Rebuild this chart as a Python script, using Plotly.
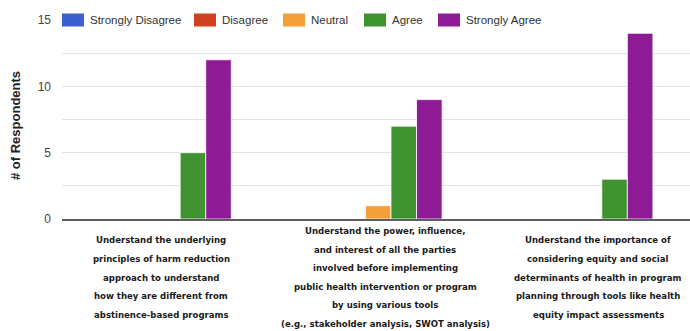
import plotly.graph_objects as go

categories = [
    "Understand the underlying\nprinciples of harm reduction\napproach to understand\nhow they are different from\nabstinence-based programs",
    "Understand the power, influence,\nand interest of all the parties\ninvolved before implementing\npublic health intervention or program\nby using various tools\n(e.g., stakeholder analysis, SWOT analysis)",
    "Understand the importance of\nconsidering equity and social\ndeterminants of health in program\nplanning through tools like health\nequity impact assessments",
]
series_names = ["Strongly Disagree", "Disagree", "Neutral", "Agree", "Strongly Agree"]
strongly_disagree = [0, 0, 0]
disagree = [0, 0, 0]
neutral = [0, 1, 0]
agree = [5, 7, 3]
strongly_agree = [12, 9, 14]
series_values = [strongly_disagree, disagree, neutral, agree, strongly_agree]
y_tick_values = [0, 5, 10, 15]
y_title = "# of Respondents"

colors = ["#3b5fcc", "#d0421f", "#f4a03a", "#3f9330", "#8e1a96"]

W, H = 690, 331
L, R, T, B = 62, 690, 20, 219


def px_x(p):
    return (p - L) / (R - L)


def px_y(p):
    return (B - p) / (B - T)


fig = go.Figure()
for name, vals, col in zip(series_names, series_values, colors):
    fig.add_trace(go.Bar(
        x=categories, y=vals, name=name, showlegend=False,
        marker=dict(color=col, line=dict(color="rgba(255,255,255,0.8)", width=1)),
    ))

font_fam = "Liberation Sans, Arial, sans-serif"
cond_fam = "DejaVu Sans Condensed, Liberation Sans, Arial, sans-serif"

# custom legend sitting on the top gridline
legend_box_x = [62, 194, 283, 364, 438]
box_w = 22
shapes = []
annotations = []
for bx, name, col in zip(legend_box_x, series_names, colors):
    shapes.append(dict(type="rect", xref="paper", yref="paper",
                       x0=px_x(bx), x1=px_x(bx + box_w), y0=px_y(26.5), y1=px_y(13.5),
                       fillcolor=col, line=dict(width=0), layer="above"))
    annotations.append(dict(xref="paper", yref="paper", x=px_x(bx + box_w + 4), y=px_y(20),
                            xanchor="left", yanchor="middle", text=name, showarrow=False,
                            bgcolor="white", borderpad=1,
                            font=dict(family=font_fam, size=11.5, color="#333")))

# category labels with generous line spacing
line_gap = 18.5
center_y = 277
label_xshift = [-6, 7, 9]
for cat, xs in zip(categories, label_xshift):
    lines = cat.split("\n")
    n = len(lines)
    for k, ln in enumerate(lines):
        yk = center_y + (k - (n - 1) / 2) * line_gap
        annotations.append(dict(xref="x", yref="paper", x=cat, y=px_y(yk), xshift=xs,
                                xanchor="center", yanchor="middle", text=ln, showarrow=False,
                                font=dict(family=cond_fam, size=9.5, color="#1a1a1a", weight="bold")))

annotations.append(dict(xref="paper", yref="paper", x=px_x(15), y=px_y(126),
                        xanchor="center", yanchor="middle", text=y_title, textangle=-90,
                        showarrow=False,
                        font=dict(family=font_fam, size=13, color="#222", weight="bold")))

fig.update_layout(
    width=W, height=H,
    margin=dict(l=L, r=W - R, t=T, b=H - B, pad=0),
    paper_bgcolor="white", plot_bgcolor="white",
    barmode="group", bargap=0.394, bargroupgap=0,
    shapes=shapes, annotations=annotations,
    showlegend=False,
)
fig.update_xaxes(type="category", range=[-0.5, 2.479], showticklabels=False,
                 showline=True, linecolor="#5f5f5f", linewidth=2, showgrid=False,
                 ticks="", fixedrange=True)
fig.update_yaxes(range=[0, 15], tickvals=y_tick_values, showgrid=True,
                 gridcolor="#e3e3e3", gridwidth=1, zeroline=False, showline=False,
                 ticks="", ticklabelstandoff=10,
                 minor=dict(dtick=2.5, showgrid=True, gridcolor="#e3e3e3", gridwidth=1),
                 tickfont=dict(family=font_fam, size=12, color="#444"))

fig.write_html("out.html")
